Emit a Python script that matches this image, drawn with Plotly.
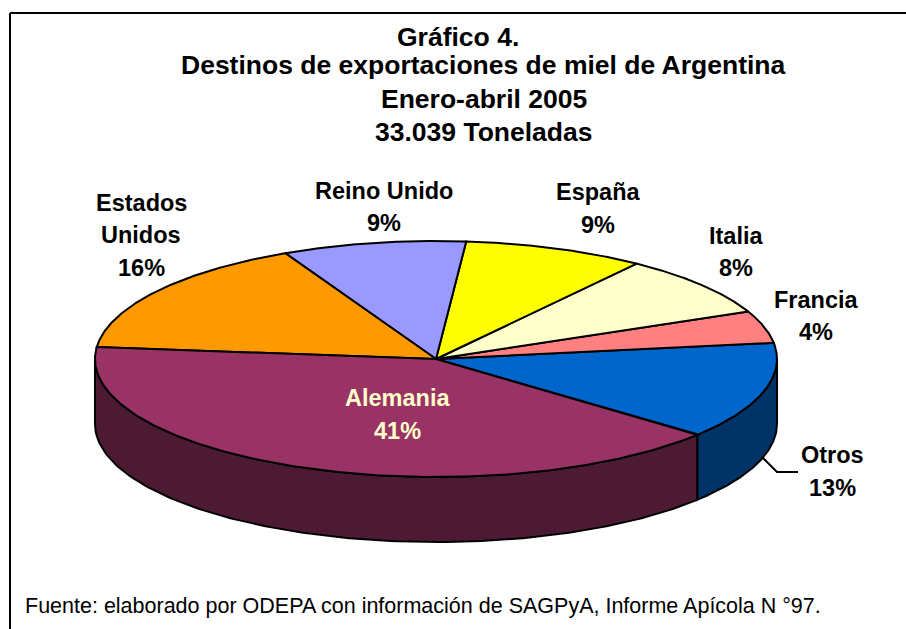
import numpy as np
import plotly.graph_objects as go

# Data (counter-clockwise from the Otros / Alemania boundary); shares
categories = ["Otros", "Francia", "Italia", "España", "Reino Unido", "Estados Unidos", "Alemania"]
values = [13.3, 4.4, 8.4, 8.6, 8.7, 16.1, 40.5]
top_colors = ["#0066CC", "#FF8080", "#FFFFCC", "#FFFF00", "#9999FF", "#FF9900", "#993366"]
side_colors = ["#003366", "#803E3E", "#80805F", "#808000", "#4C4C80", "#804C00", "#4D1A33"]

title_lines = ["Gráfico 4.", "Destinos de exportaciones de miel de Argentina",
               "Enero-abril 2005", "33.039 Toneladas"]
source_text = "Fuente: elaborado por ODEPA con información de SAGPyA, Informe Apícola N °97."

# Pie geometry (pixel-aligned axes)
CX, CY, RX, RY, DEPTH = 436, 359, 341, 118, 65
START_DEG = -40


def ell(t_deg, dy=0):
    t = np.radians(t_deg)
    return CX + RX * np.cos(t), CY - RY * np.sin(t) + dy


fig = go.Figure()
edges = START_DEG + np.concatenate([[0], np.cumsum(values)]) * 3.6

# Side walls: only the front part of the rim (angles 180..360) is visible
for i, cat in enumerate(categories):
    a0, a1 = edges[i], edges[i + 1]
    segs = []
    for lo, hi in [(a0, a1), (a0 + 360, a1 + 360), (a0 - 360, a1 - 360)]:
        l, h = max(lo, 180), min(hi, 360)
        if h > l:
            segs.append((l, h))
    for l, h in segs:
        t = np.linspace(l, h, 120)
        xt, yt = ell(t)
        xb, yb = ell(t[::-1], DEPTH)
        fig.add_trace(go.Scatter(
            x=np.concatenate([xt, xb, xt[:1]]), y=np.concatenate([yt, yb, yt[:1]]),
            mode="lines", fill="toself", fillcolor=side_colors[i],
            line=dict(color="black", width=2), hoverinfo="skip", name=cat + " lado"))

# Top faces
for i, cat in enumerate(categories):
    t = np.linspace(edges[i], edges[i + 1], 200)
    xt, yt = ell(t)
    fig.add_trace(go.Scatter(
        x=np.concatenate([[CX], xt, [CX]]), y=np.concatenate([[CY], yt, [CY]]),
        mode="lines", fill="toself", fillcolor=top_colors[i],
        line=dict(color="black", width=2), name=cat,
        hovertemplate=f"{cat}: {values[i]}%<extra></extra>"))

# Leader line for Otros
fig.add_trace(go.Scatter(x=[762, 777, 798], y=[457, 472, 472], mode="lines",
                         line=dict(color="black", width=2), hoverinfo="skip"))

annotations = []


def text(x, y, s, size=23.5, color="black", bold=True, anchor="center"):
    annotations.append(dict(
        x=x, y=y, text=f"<b>{s}</b>" if bold else s, showarrow=False, xanchor=anchor,
        yanchor="middle", font=dict(family="Liberation Sans", size=size, color=color)))


for x, y, s in zip([458, 483, 484, 484], [37, 65, 99, 132], title_lines):
    text(x, y, s, size=26.5)

labels = [
    (832, 455, "Otros"), (832, 488, "13%"),
    (816, 300, "Francia"), (816, 332, "4%"),
    (736, 236, "Italia"), (736, 268, "8%"),
    (598, 192, "España"), (598, 225, "9%"),
    (384, 191, "Reino Unido"), (384, 223, "9%"),
    (141, 203, "Estados"), (141, 235, "Unidos"), (141, 268, "16%"),
]
for x, y, s in labels:
    text(x, y, s)
text(397, 398, "Alemania", color="#FFFFCC")
text(397, 431, "41%", color="#FFFFCC")
text(23, 606, source_text, size=21.5, bold=False, anchor="left")

fig.update_layout(
    width=906, height=629, margin=dict(l=0, r=0, t=0, b=0),
    paper_bgcolor="white", plot_bgcolor="white", showlegend=False,
    xaxis=dict(range=[0, 906], visible=False, fixedrange=True),
    yaxis=dict(range=[629, 0], visible=False, fixedrange=True),
    annotations=annotations,
    shapes=[
        dict(type="line", xref="x", yref="y", x0=10, y0=13, x1=10, y1=640, line=dict(color="black", width=2)),
        dict(type="line", xref="x", yref="y", x0=10, y0=13, x1=920, y1=13, line=dict(color="black", width=2)),
    ],
)
fig.write_html("out.html", config=dict(displayModeBar=False),
               post_script="document.body.style.margin='0';")
